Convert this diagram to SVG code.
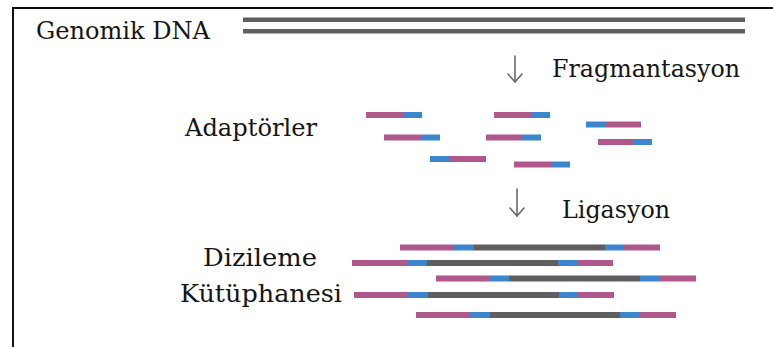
<svg xmlns="http://www.w3.org/2000/svg" width="773" height="347" viewBox="0 0 773 347">
  <defs>
    <style>
      .lbl { font-family: "DejaVu Serif", "Liberation Serif", serif; font-size: 24px; fill: #151515; }
      .lbl-lg { font-size: 25px; }
      .dna { fill: #5f5f61; }
      .ad { fill: #b0588c; }
      .bc { fill: #3b86cc; }
      .arrow { stroke: #6a6a6a; stroke-width: 1.6; fill: none; stroke-linecap: round; }
      .frame { stroke: #111; stroke-width: 2; fill: none; }
    </style>
    <!-- open chevron head, drawn pointing along +x -->
    <marker id="head" markerWidth="10" markerHeight="16" refX="9" refY="8" orient="auto" markerUnits="userSpaceOnUse" viewBox="0 0 10 16">
      <path d="M1 1 L9 8 L1 15" stroke="#6a6a6a" stroke-width="1.6" fill="none" stroke-linecap="round" stroke-linejoin="round"/>
    </marker>
  </defs>

  <rect width="773" height="347" fill="#ffffff"/>

  <!-- open frame: top and left edges -->
  <path class="frame" d="M13 347 V8 H773"/>

  <!-- genomic DNA: double strand -->
  <g id="genomic-dna">
    <text class="lbl" x="36" y="39" textLength="174" lengthAdjust="spacingAndGlyphs">Genomik DNA</text>
    <rect class="dna" x="243" y="17.5" width="502" height="4.5"/>
    <rect class="dna" x="243" y="29" width="502" height="4.5"/>
  </g>

  <!-- adapter-tagged fragments -->
  <g id="adapters">
    <text class="lbl" x="185" y="136" textLength="132" lengthAdjust="spacingAndGlyphs">Adaptörler</text>
    <rect class="ad" x="366" y="112" width="37" height="6"/><rect class="bc" x="403" y="112" width="19" height="6"/>
    <rect class="ad" x="494" y="112" width="37" height="6"/><rect class="bc" x="531" y="112" width="19" height="6"/>
    <rect class="bc" x="586" y="121.5" width="20" height="6"/><rect class="ad" x="606" y="121.5" width="35" height="6"/>
    <rect class="ad" x="384" y="134.5" width="37" height="6"/><rect class="bc" x="421" y="134.5" width="19" height="6"/>
    <rect class="ad" x="486" y="134.5" width="36" height="6"/><rect class="bc" x="522" y="134.5" width="19" height="6"/>
    <rect class="ad" x="598" y="139" width="35" height="6"/><rect class="bc" x="633" y="139" width="19" height="6"/>
    <rect class="bc" x="430" y="156" width="20" height="6"/><rect class="ad" x="450" y="156" width="36" height="6"/>
    <rect class="ad" x="514" y="161.5" width="37" height="6"/><rect class="bc" x="551" y="161.5" width="19" height="6"/>
  </g>

  <!-- sequencing library: inserts flanked by adapters -->
  <g id="library">
    <text class="lbl lbl-lg" x="203" y="266" textLength="114" lengthAdjust="spacingAndGlyphs">Dizileme</text>
    <text class="lbl lbl-lg" x="180" y="302" textLength="162" lengthAdjust="spacingAndGlyphs">Kütüphanesi</text>

    <rect class="ad" x="400" y="244.5" width="54" height="6"/><rect class="bc" x="454" y="244.5" width="20" height="6"/>
    <rect class="dna" x="474" y="244.5" width="131" height="6"/><rect class="bc" x="605" y="244.5" width="19" height="6"/>
    <rect class="ad" x="624" y="244.5" width="36" height="6"/>

    <rect class="ad" x="352" y="260" width="55" height="6"/><rect class="bc" x="407" y="260" width="20" height="6"/>
    <rect class="dna" x="427" y="260" width="131" height="6"/><rect class="bc" x="558" y="260" width="20" height="6"/>
    <rect class="ad" x="578" y="260" width="35" height="6"/>

    <rect class="ad" x="436" y="275.5" width="54" height="6"/><rect class="bc" x="490" y="275.5" width="19" height="6"/>
    <rect class="dna" x="509" y="275.5" width="131" height="6"/><rect class="bc" x="640" y="275.5" width="20" height="6"/>
    <rect class="ad" x="660" y="275.5" width="36" height="6"/>

    <rect class="ad" x="354" y="292" width="54" height="6"/><rect class="bc" x="408" y="292" width="20" height="6"/>
    <rect class="dna" x="428" y="292" width="131" height="6"/><rect class="bc" x="559" y="292" width="19" height="6"/>
    <rect class="ad" x="578" y="292" width="36" height="6"/>

    <rect class="ad" x="416" y="312" width="54" height="6"/><rect class="bc" x="470" y="312" width="20" height="6"/>
    <rect class="dna" x="490" y="312" width="130" height="6"/><rect class="bc" x="620" y="312" width="20" height="6"/>
    <rect class="ad" x="640" y="312" width="36" height="6"/>
  </g>

  <!-- step labels -->
  <g id="step-fragmentation">
    <text class="lbl" x="552" y="77" textLength="188" lengthAdjust="spacingAndGlyphs">Fragmantasyon</text>
  </g>
  <g id="step-ligation">
    <text class="lbl" x="562" y="218" textLength="108" lengthAdjust="spacingAndGlyphs">Ligasyon</text>
  </g>

  <!-- process arrows -->
  <g id="connectors">
    <line class="arrow" x1="515" y1="56" x2="515" y2="82" marker-end="url(#head)"/>
    <line class="arrow" x1="517" y1="189" x2="517" y2="216" marker-end="url(#head)"/>
  </g>
</svg>
